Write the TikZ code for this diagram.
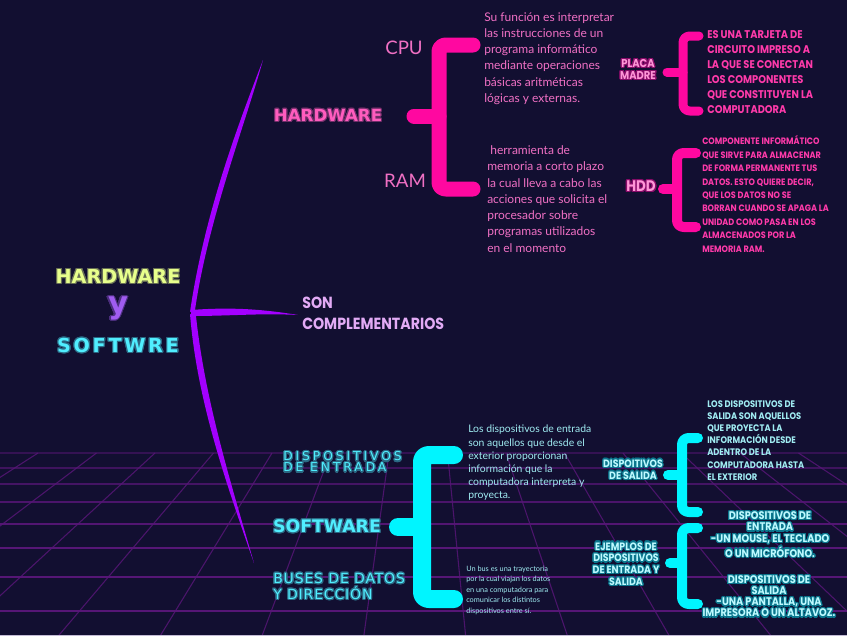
\documentclass[tikz,border=0pt]{standalone}
\usepackage{fontspec}
\setmainfont{Lato}
\newfontfamily\techfont{DejaVu Sans}
\newfontfamily\capsfont{Poppins}[FakeStretch=0.88]
\usepackage{contour}
\contourlength{0.9pt}

\definecolor{bgnavy}{RGB}{18,15,49}
\definecolor{gridpurple}{RGB}{86,22,118}
\definecolor{gridedge}{RGB}{196,188,214}
\definecolor{strokeviolet}{RGB}{163,0,255}
\definecolor{bracepink}{RGB}{255,8,160}
\definecolor{textpink}{RGB}{240,112,196}
\definecolor{boldpink}{RGB}{255,58,170}
\definecolor{headpink}{RGB}{255,92,190}
\definecolor{lightpink}{RGB}{255,150,215}
\definecolor{bracecyan}{RGB}{0,245,255}
\definecolor{headcyan}{RGB}{80,238,255}
\definecolor{textcyan}{RGB}{160,236,242}
\definecolor{lightcyan}{RGB}{190,250,255}
\definecolor{titleyellow}{RGB}{232,255,140}
\definecolor{titleviolet}{RGB}{160,92,240}
\definecolor{sonlavender}{RGB}{226,170,245}

\newcommand{\glow}[2]{\contour{#1}{#2}}

\tikzset{
  bracestroke/.style={line width=#1, line cap=round, line join=round, rounded corners=5pt},
  gridline/.style={gridpurple, line width=0.8pt},
  techtext/.style={inner sep=0pt, font=\techfont\bfseries\fontsize{#1}{#1}\selectfont},
  capstext/.style 2 args={inner sep=0pt, font=\capsfont\bfseries\fontsize{#1}{#2}\selectfont},
  bodytext/.style={inner sep=0pt, align=left, anchor=west}
}

\begin{document}
\begin{tikzpicture}[x=0.75pt,y=-0.75pt]
\useasboundingbox (0,0) rectangle (847,636);
\fill[bgnavy] (0,0) rectangle (847,636);

% perspective grid
\begin{scope}
  \clip (0,440) rectangle (847,636);
  \foreach \gy/\op in {453/.5,468/.65,484/.75,502/.85,524/.95,548/1,577/1,611/1}
    \draw[gridline, opacity=\op] (0,\gy) -- (847,\gy);
  \foreach \k in {-6,...,12}
    \draw[gridline, opacity=.85] ({272+58.5*\k},453) -- ({423+(272+58.5*\k-423)*1.741},636);
\end{scope}
\fill[gridedge] (0,634.5) rectangle (847,636);

% violet strokes
\fill[strokeviolet] (263,60) .. controls (240,120) and (205,210) .. (190,312)
  -- (195,310) .. controls (208,220) and (245,125) .. (263,60) -- cycle;
\fill[strokeviolet] (190,314) .. controls (197,400) and (225,480) .. (254,563)
  .. controls (230,480) and (205,400) .. (196,316) -- cycle;
\fill[strokeviolet] (191,310) .. controls (230,307) and (262,309) .. (298,315)
  .. controls (262,313) and (230,316) .. (191,316) -- cycle;

% title
\node[techtext=14.4, text=titleyellow] (title) at (118,277) {\glow{titleyellow!40!bgnavy}{HARDWARE}};
\node[techtext=23, text=titleviolet] (tiy) at (118,309) {\glow{titleviolet!40!bgnavy}{y}};
\node[techtext=14.4, text=headcyan] (titlesw) at (118,346) {\addfontfeature{LetterSpace=14}\glow{headcyan!40!bgnavy}{SOFTWRE}};

% hardware
\node[techtext=12.5, text=headpink] (hwhead) at (328,116) {\glow{headpink!40!bgnavy}{HARDWARE}};
\draw[bracestroke=11.25pt, bracepink] (473,45) -| (439,116) |- (473,189);
\draw[bracestroke=11.25pt, bracepink] (414,116) -- (439,116);
\node[inner sep=0pt, text=textpink, font=\fontsize{14}{14}\selectfont] (cpu) at (404,47.5) {CPU};
\node[inner sep=0pt, text=textpink, font=\fontsize{14}{14}\selectfont] (ram) at (405,181) {RAM};
\node[bodytext, text=textpink, font=\fontsize{9}{12.2}\selectfont] (cpudesc) at (484,58.5)
  {Su función es interpretar\\las instrucciones de un\\programa informático\\mediante operaciones\\básicas aritméticas\\lógicas y externas.};
\node[bodytext, text=textpink, font=\fontsize{9}{12.2}\selectfont] (ramdesc) at (487,199)
  {\ herramienta de\\memoria a corto plazo\\la cual lleva a cabo las\\acciones que solicita el\\procesador sobre\\programas utilizados\\en el momento};

\node[capstext={8.5}{9}, text=lightpink, align=center] (placa) at (638,70)
  {\glow{bracepink!50!bgnavy}{PLACA}\\\glow{bracepink!50!bgnavy}{MADRE}};
\draw[bracestroke=6.75pt, bracepink] (699,36) -| (683,72) |- (699,111);
\draw[bracestroke=6.75pt, bracepink] (667,72) -- (683,72);
\node[capstext={8.4}{11.25}, text=boldpink, align=left, anchor=west] (placadesc) at (707,72.5)
  {ES UNA TARJETA DE\\CIRCUITO IMPRESO A\\LA QUE SE CONECTAN\\LOS COMPONENTES\\QUE CONSTITUYEN LA\\COMPUTADORA};

\node[capstext={11.5}{11.5}, text=lightpink] (hdd) at (641,187) {\glow{bracepink!50!bgnavy}{HDD}};
\draw[bracestroke=7.5pt, bracepink] (696,153) -| (677,189) |- (696,227);
\draw[bracestroke=7.5pt, bracepink] (663,189) -- (677,189);
\node[capstext={6.95}{10.1}, text=boldpink, align=left, anchor=west] (hdddesc) at (702,194)
  {COMPONENTE INFORMÁTICO\\QUE SIRVE PARA ALMACENAR\\DE FORMA PERMANENTE TUS\\DATOS. ESTO QUIERE DECIR,\\QUE LOS DATOS NO SE\\BORRAN CUANDO SE APAGA LA\\UNIDAD COMO PASA EN LOS\\ALMACENADOS POR LA\\MEMORIA RAM.};

% son complementarios
\node[capstext={12.1}{15.75}, text=sonlavender, align=left, anchor=west] (son) at (302,313.5)
  {SON\\COMPLEMENTARIOS};

% software
\node[techtext=13, text=headcyan] (swhead) at (327,527) {\glow{headcyan!40!bgnavy}{SOFTWARE}};
\node[inner sep=0pt, text=headcyan, align=left, anchor=west, font=\techfont\fontsize{9.2}{8.25}\selectfont] (dispent) at (283,462.5)
  {\addfontfeature{LetterSpace=24}\glow{headcyan!40!bgnavy}{DISPOSITIVOS}\\\addfontfeature{LetterSpace=24}\glow{headcyan!40!bgnavy}{DE ENTRADA}};
\node[inner sep=0pt, text=headcyan, align=left, anchor=west, font=\techfont\fontsize{10.5}{9.4}\selectfont] (buses) at (273,587)
  {\addfontfeature{LetterSpace=6}\glow{headcyan!40!bgnavy}{BUSES DE DATOS}\\\addfontfeature{LetterSpace=6}\glow{headcyan!40!bgnavy}{Y DIRECCIÓN}};
\draw[bracestroke=13.5pt, bracecyan] (454,455) -| (422,527) |- (454,599);
\draw[bracestroke=13.5pt, bracecyan] (398,527) -- (422,527);
\node[bodytext, text=textcyan, font=\fontsize{7.8}{9.9}\selectfont] (entdesc) at (468,463)
  {Los dispositivos de entrada\\son aquellos que desde el\\exterior proporcionan\\información que la\\computadora interpreta y\\proyecta.};
\node[bodytext, text=textcyan, font=\fontsize{5.5}{7.9}\selectfont] (busdesc) at (466,590)
  {Un bus es una trayectoria\\por la cual viajan los datos\\en una computadora para\\comunicar los distintos\\dispositivos entre sí.};

\node[capstext={8}{9}, text=lightcyan, align=center] (dispsal) at (633,470)
  {\glow{bracecyan!45!bgnavy}{DISPOITIVOS}\\\glow{bracecyan!45!bgnavy}{DE SALIDA}};
\draw[bracestroke=7.5pt, bracecyan] (698,438) -| (682,475) |- (698,512);
\draw[bracestroke=7.5pt, bracecyan] (668,475) -- (682,475);
\node[capstext={7.1}{9.1}, text=textcyan, align=left, anchor=west] (saldesc) at (707,440.5)
  {LOS DISPOSITIVOS DE\\SALIDA SON AQUELLOS\\QUE PROYECTA LA\\INFORMACIÓN DESDE\\ADENTRO DE LA\\COMPUTADORA HASTA\\EL EXTERIOR};

\node[capstext={8}{8.8}, text=lightcyan, align=center] (ejemplos) at (626,564.5)
  {\glow{bracecyan!45!bgnavy}{EJEMPLOS DE}\\\glow{bracecyan!45!bgnavy}{DISPOSITIVOS}\\\glow{bracecyan!45!bgnavy}{DE ENTRADA Y}\\\glow{bracecyan!45!bgnavy}{SALIDA}};
\draw[bracestroke=7.5pt, bracecyan] (698,528) -| (682,563) |- (698,604);
\draw[bracestroke=7.5pt, bracecyan] (670,563) -- (682,563);
\node[capstext={8.3}{8.5}, text=lightcyan, align=center] (ejent) at (770,535)
  {\glow{bracecyan!45!bgnavy}{DISPOSITIVOS DE}\\\glow{bracecyan!45!bgnavy}{ENTRADA}\\\glow{bracecyan!45!bgnavy}{-UN MOUSE, EL TECLADO}\\\glow{bracecyan!45!bgnavy}{O UN MICRÓFONO.}};
\node[capstext={8.3}{8.3}, text=lightcyan, align=center] (ejsal) at (769,597)
  {\glow{bracecyan!45!bgnavy}{DISPOSITIVOS DE}\\\glow{bracecyan!45!bgnavy}{SALIDA}\\\glow{bracecyan!45!bgnavy}{-UNA PANTALLA, UNA}\\\glow{bracecyan!45!bgnavy}{IMPRESORA O UN ALTAVOZ.}};
\end{tikzpicture}
\end{document}
